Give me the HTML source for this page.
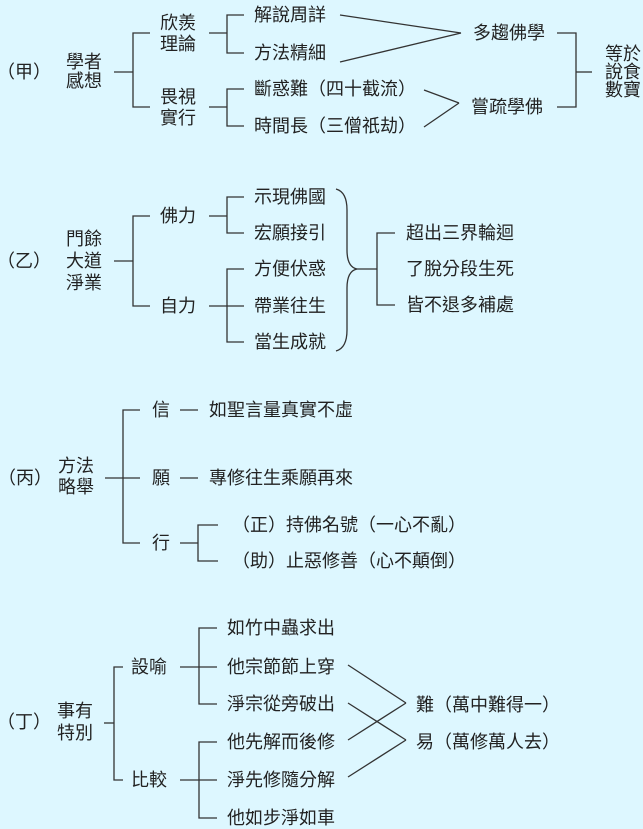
<!DOCTYPE html>
<html><head><meta charset="utf-8"><style>
html,body{margin:0;padding:0;background:#ddf7ff;}
svg{display:block;}
text{font-family:"Liberation Sans","Noto Sans CJK TC",sans-serif;font-size:18px;fill:#222;dominant-baseline:central;}
line,polyline,path{stroke:#333;stroke-width:1.3;fill:none;}
</style></head><body>
<svg width="643" height="829" viewBox="0 0 643 829" xmlns="http://www.w3.org/2000/svg">
<!-- 甲 -->
<text x="-3" y="72">（甲）</text>
<text x="66" y="62">學者</text>
<text x="66" y="81">感想</text>
<line x1="114" y1="72" x2="133" y2="72"/>
<polyline points="150,33 133,33 133,107 150,107"/>
<text x="160" y="23">欣羨</text>
<text x="160" y="44">理論</text>
<text x="160" y="97">畏視</text>
<text x="160" y="118">實行</text>
<line x1="209" y1="33" x2="227" y2="33"/>
<polyline points="244,15 227,15 227,53 244,53"/>
<text x="254" y="15">解說周詳</text>
<text x="254" y="53">方法精細</text>
<line x1="340" y1="15" x2="461" y2="33"/>
<line x1="340" y1="62" x2="461" y2="33"/>
<text x="473" y="33">多趨佛學</text>
<line x1="209" y1="107" x2="227" y2="107"/>
<polyline points="244,89 227,89 227,126 244,126"/>
<text x="254" y="89">斷惑難（四十截流）</text>
<text x="254" y="126">時間長（三僧祇劫）</text>
<line x1="424" y1="90" x2="459" y2="103"/>
<line x1="424" y1="127" x2="459" y2="103"/>
<text x="471" y="107">嘗疏學佛</text>
<polyline points="557,33 576,33 576,107 557,107"/>
<line x1="576" y1="72" x2="592" y2="72"/>
<text x="605" y="54">等於</text>
<text x="605" y="72">說食</text>
<text x="605" y="90">數寶</text>

<!-- 乙 -->
<text x="-3" y="261">（乙）</text>
<text x="66" y="239">門餘</text>
<text x="66" y="261">大道</text>
<text x="66" y="283">淨業</text>
<line x1="114" y1="261" x2="133" y2="261"/>
<polyline points="150,216 133,216 133,306 150,306"/>
<text x="160" y="216">佛力</text>
<text x="160" y="306">自力</text>
<line x1="209" y1="216" x2="227" y2="216"/>
<polyline points="244,197 227,197 227,233 244,233"/>
<text x="254" y="197">示現佛國</text>
<text x="254" y="233">宏願接引</text>
<line x1="209" y1="306" x2="244" y2="306"/>
<polyline points="244,269 227,269 227,342 244,342"/>
<text x="254" y="269">方便伏惑</text>
<text x="254" y="306">帶業往生</text>
<text x="254" y="342">當生成就</text>
<path d="M336,189 Q347,192 347,210 L347,250 Q347,267 357,269 Q347,271 347,288 L347,330 Q347,348 336,351"/>
<line x1="357" y1="269" x2="377" y2="269"/>
<polyline points="395,233 377,233 377,305 395,305"/>
<text x="406" y="233">超出三界輪迴</text>
<text x="406" y="269">了脫分段生死</text>
<text x="406" y="305">皆不退多補處</text>

<!-- 丙 -->
<text x="-2" y="478">（丙）</text>
<text x="58" y="466">方法</text>
<text x="58" y="487">略舉</text>
<line x1="105" y1="478" x2="140" y2="478"/>
<polyline points="140,410 123,410 123,543 140,543"/>
<text x="152" y="410">信</text>
<line x1="180" y1="410" x2="198" y2="410"/>
<text x="209" y="410">如聖言量真實不虛</text>
<text x="152" y="478">願</text>
<line x1="180" y1="478" x2="198" y2="478"/>
<text x="209" y="478">專修往生乘願再來</text>
<text x="152" y="543">行</text>
<line x1="180" y1="543" x2="198" y2="543"/>
<polyline points="218,525 198,525 198,561 218,561"/>
<text x="232" y="525">（正）持佛名號（一心不亂）</text>
<text x="232" y="561">（助）止惡修善（心不顛倒）</text>

<!-- 丁 -->
<text x="-3" y="722">（丁）</text>
<text x="57" y="711">事有</text>
<text x="57" y="733">特別</text>
<line x1="104" y1="723" x2="114" y2="723"/>
<polyline points="123,667 114,667 114,780 123,780"/>
<text x="131" y="667">設喻</text>
<text x="131" y="780">比較</text>
<line x1="180" y1="667" x2="217" y2="667"/>
<polyline points="217,628 199,628 199,704 217,704"/>
<line x1="180" y1="780" x2="217" y2="780"/>
<polyline points="217,742 199,742 199,818 217,818"/>
<text x="227" y="628">如竹中蟲求出</text>
<text x="227" y="667">他宗節節上穿</text>
<text x="227" y="704">淨宗從旁破出</text>
<text x="227" y="742">他先解而後修</text>
<text x="227" y="780">淨先修隨分解</text>
<text x="227" y="818">他如步淨如車</text>
<line x1="348" y1="665" x2="406" y2="703"/>
<line x1="348" y1="703" x2="406" y2="740"/>
<line x1="348" y1="740" x2="406" y2="703"/>
<line x1="348" y1="777" x2="406" y2="740"/>
<text x="416" y="705">難（萬中難得一）</text>
<text x="416" y="742">易（萬修萬人去）</text>
</svg>
</body></html>
